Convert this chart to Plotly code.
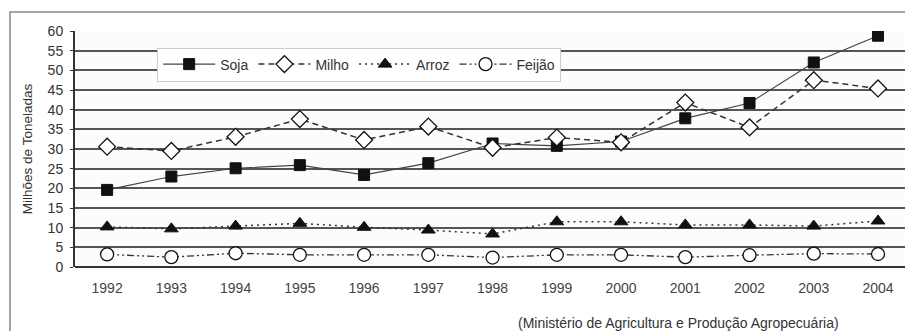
import plotly.graph_objects as go

years = list(range(1992, 2005))
soja = [19.6, 23.0, 25.1, 25.9, 23.4, 26.4, 31.4, 30.8, 31.9, 37.8, 41.7, 52.0, 58.8]
milho = [30.6, 29.5, 33.1, 37.6, 32.3, 35.7, 30.3, 32.9, 31.7, 41.8, 35.5, 47.5, 45.4]
arroz = [10.2, 9.7, 10.4, 11.1, 10.1, 9.4, 8.4, 11.5, 11.5, 10.7, 10.7, 10.4, 11.7]
feijao = [3.2, 2.5, 3.5, 3.1, 3.1, 3.1, 2.4, 3.1, 3.1, 2.5, 3.0, 3.4, 3.3]
yticks = list(range(0, 61, 5))

fig = go.Figure()
fig.add_trace(go.Scatter(x=years, y=soja, name="Soja", mode="lines+markers",
                         line=dict(color="#444", width=1.2),
                         marker=dict(symbol="square", size=11, color="#111",
                                     line=dict(color="#111", width=1))))
fig.add_trace(go.Scatter(x=years, y=milho, name="Milho", mode="lines+markers",
                         line=dict(color="#333", width=1.5, dash="6px,4px"),
                         marker=dict(symbol="diamond", size=13, color="white",
                                     line=dict(color="#111", width=1.3))))
fig.add_trace(go.Scatter(x=years, y=arroz, name="Arroz", mode="lines+markers",
                         line=dict(color="#333", width=1.5, dash="2px,4px"),
                         marker=dict(symbol="triangle-up", size=12, color="#111",
                                     line=dict(color="#111", width=1))))
fig.add_trace(go.Scatter(x=years, y=feijao, name="Feijão", mode="lines+markers",
                         line=dict(color="#333", width=1.3, dash="7px,3px,2px,3px,2px,3px"),
                         marker=dict(symbol="circle", size=13, color="white",
                                     line=dict(color="#111", width=1.3))))

fig.update_layout(
    width=905, height=331,
    margin=dict(l=75, r=0, t=31, b=64),
    paper_bgcolor="white",
    plot_bgcolor="#fbfcfe",
    font=dict(family="Liberation Sans, Arial, sans-serif", size=13, color="#333"),
    showlegend=True,
    legend=dict(orientation="h", x=0.099, y=0.93, xanchor="left", yanchor="top",
                bgcolor="white", bordercolor="#ccc", borderwidth=1,
                font=dict(size=14, color="#333"), itemwidth=52,
                tracegroupgap=0),
    xaxis=dict(range=[1991.5, 2004.42], tickmode="array", tickvals=years,
               ticktext=[str(y) for y in years], showgrid=False, zeroline=False,
               showline=False, ticks="", ticklabelstandoff=11, automargin=False,
               tickfont=dict(size=14, color="#444")),
    yaxis=dict(range=[0, 60], tickmode="array", tickvals=yticks,
               showgrid=True, gridcolor="#555", gridwidth=1.5,
               zeroline=True, zerolinecolor="#333", zerolinewidth=2,
               showline=True, linecolor="#333", linewidth=2, automargin=False,
               ticks="outside", ticklen=3, tickcolor="#333", ticklabelstandoff=4,
               tickfont=dict(size=14, color="#333"),
               title=dict(text="Milhões de Toneladas", font=dict(size=13.5, color="#333"),
                          standoff=12)),
    shapes=[dict(type="rect", xref="paper", yref="paper",
                 x0=(10 - 75) / 830, x1=1.05, y0=-0.4, y1=(267 - 12) / 236,
                 line=dict(color="#888", width=1.5), fillcolor="rgba(0,0,0,0)",
                 layer="below")],
    annotations=[dict(text="(Ministério de Agricultura e Produção Agropecuária)",
                      xref="paper", yref="paper", x=(678 - 75) / 830, y=(267 - 323) / 236,
                      xanchor="center", yanchor="middle", showarrow=False,
                      font=dict(size=14, color="#333"))],
)

fig.write_html("out.html", config={"displayModeBar": False},
               post_script="document.body.style.margin='0';document.body.style.overflow='hidden';")
